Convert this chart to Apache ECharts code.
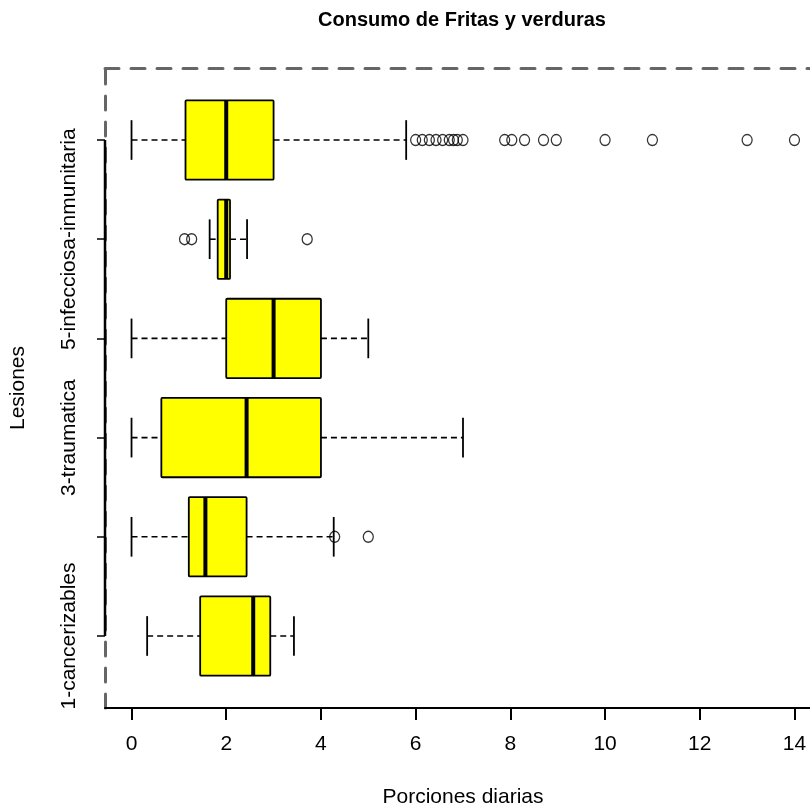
<!DOCTYPE html>
<html>
<head>
<meta charset="utf-8">
<title>Consumo de Fritas y verduras</title>
<script src="https://cdn.jsdelivr.net/npm/echarts@6/dist/echarts.min.js"></script>
<style>
  html, body { margin: 0; padding: 0; background: #ffffff; }
  #chart { width: 810px; height: 807px; }
</style>
</head>
<body>
<div id="chart"></div>
<script>
// Groups of lesions, bottom to top (only every other one is labelled on the axis)
const categories = [
  '1-cancerizables',
  '2-degenerativa',
  '3-traumatica',
  '4-vascular',
  '5-infecciosa-inmunitaria',
  '6-otras'
];

// Five-number summaries per group (daily portions)
const lowWhisker  = [0.33, 0.00, 0.00, 0.00, 1.65, 0.00];
const lowerQuart  = [1.45, 1.21, 0.63, 2.00, 1.82, 1.14];
const medianValue = [2.57, 1.56, 2.43, 3.00, 2.00, 2.00];
const upperQuart  = [2.93, 2.43, 4.00, 4.00, 2.08, 3.00];
const highWhisker = [3.43, 4.27, 7.00, 5.00, 2.44, 5.80];

// Points beyond the whiskers
const outliers = [
  [],
  [4.29, 5.0],
  [],
  [],
  [1.12, 1.27, 3.71],
  [6.0, 6.14, 6.29, 6.43, 6.57, 6.71, 6.8, 6.88, 7.0, 7.88, 8.03, 8.3, 8.7, 8.97, 10, 11, 13, 14]
];

const xTickValues = [0, 2, 4, 6, 8, 10, 12, 14];
const groupTicks = [1, 2, 3, 4, 5, 6];
const labelledGroups = [1, 3, 5];

// Axis extents: data range padded on each side
const X_MIN = -0.56, X_MAX = 14.56;
const Y_MIN = 0.274, Y_MAX = 6.726;
const BOX_WIDTH = 0.8;
const CAP_WIDTH = 0.4;

const FONT = '"Liberation Sans", Arial, Helvetica, sans-serif';

const boxData = categories.map((c, i) => [
  i + 1, lowWhisker[i], lowerQuart[i], medianValue[i], upperQuart[i], highWhisker[i]
]);

const outlierData = [];
outliers.forEach((vals, i) => vals.forEach(v => outlierData.push([v, i + 1])));

function renderBox(params, api) {
  const g = api.value(0);
  const pLo = api.coord([api.value(1), g]);
  const pQ1 = api.coord([api.value(2), g]);
  const pMed = api.coord([api.value(3), g]);
  const pQ3 = api.coord([api.value(4), g]);
  const pHi = api.coord([api.value(5), g]);
  const half = api.size([0, BOX_WIDTH])[1] / 2;
  const capHalf = api.size([0, CAP_WIDTH])[1] / 2;
  const cy = pMed[1];
  const whisk = { stroke: '#000', lineWidth: 1.6, lineDash: [6, 4], fill: null };
  const solid = { stroke: '#000', lineWidth: 1.8, fill: null };
  return {
    type: 'group',
    children: [
      { type: 'line', shape: { x1: pLo[0], y1: cy, x2: pQ1[0], y2: cy }, style: whisk },
      { type: 'line', shape: { x1: pQ3[0], y1: cy, x2: pHi[0], y2: cy }, style: whisk },
      { type: 'line', shape: { x1: pLo[0], y1: cy - capHalf, x2: pLo[0], y2: cy + capHalf }, style: solid },
      { type: 'line', shape: { x1: pHi[0], y1: cy - capHalf, x2: pHi[0], y2: cy + capHalf }, style: solid },
      {
        type: 'rect',
        shape: { x: pQ1[0], y: cy - half, width: pQ3[0] - pQ1[0], height: half * 2, r: 1 },
        style: { fill: '#FFFF00', stroke: '#000', lineWidth: 1.8 }
      },
      { type: 'line', shape: { x1: pMed[0], y1: cy - half, x2: pMed[0], y2: cy + half }, style: { stroke: '#000', lineWidth: 4 } }
    ]
  };
}

const chart = echarts.init(document.getElementById('chart'), null, { renderer: 'canvas' });

chart.setOption({
  animation: false,
  backgroundColor: '#ffffff',
  textStyle: { fontFamily: FONT },
  title: {
    text: 'Consumo de Fritas y verduras',
    left: 457,
    top: 5,
    textAlign: 'center',
    textStyle: { fontFamily: FONT, fontWeight: 'bold', fontSize: 20, color: '#000' }
  },
  grid: {
    left: 105, top: 68, width: 716, height: 640,
    containLabel: false,
    outerBoundsMode: 'none'
  },
  xAxis: [
    {
      type: 'value',
      position: 'bottom',
      min: X_MIN,
      max: X_MAX,
      name: 'Porciones diarias',
      nameLocation: 'middle',
      nameGap: 79,
      nameTextStyle: { fontFamily: FONT, fontSize: 21, color: '#000' },
      axisLine: { show: true, onZero: false, lineStyle: { color: '#000', width: 2 } },
      axisTick: { show: true, length: 12, lineStyle: { color: '#000', width: 2 }, customValues: xTickValues },
      axisLabel: { show: true, margin: 26, fontFamily: FONT, fontSize: 21, color: '#000', customValues: xTickValues },
      splitLine: { show: false }
    },
    {
      type: 'value',
      position: 'top',
      min: X_MIN,
      max: X_MAX,
      axisLine: { show: true, onZero: false, lineStyle: { color: '#666', width: 3, type: [14, 12] } },
      axisTick: { show: false },
      axisLabel: { show: false },
      splitLine: { show: false }
    }
  ],
  yAxis: {
    type: 'value',
    position: 'left',
    min: Y_MIN,
    max: Y_MAX,
    name: 'Lesiones',
    nameLocation: 'middle',
    nameGap: 76,
    nameTextStyle: { fontFamily: FONT, fontSize: 21, color: '#000' },
    axisLine: { show: true, onZero: false, lineStyle: { color: '#666', width: 3, type: [14, 12] } },
    axisTick: { show: true, length: 8, lineStyle: { color: '#000', width: 1.5 }, customValues: groupTicks },
    axisLabel: {
      show: true,
      rotate: 90,
      margin: 25,
      fontFamily: FONT,
      fontSize: 21,
      color: '#000',
      customValues: labelledGroups,
      formatter: v => categories[Math.round(v) - 1]
    },
    splitLine: { show: false }
  },
  series: [
    {
      // solid axis segment spanning the first to the last group
      type: 'line',
      xAxisIndex: 0,
      clip: false,
      silent: true,
      symbol: 'none',
      lineStyle: { color: '#000', width: 2.5 },
      data: [[X_MIN, groupTicks[0]], [X_MIN, groupTicks[groupTicks.length - 1]]],
      z: 5
    },
    {
      type: 'custom',
      xAxisIndex: 0,
      renderItem: renderBox,
      encode: { x: [1, 2, 3, 4, 5], y: 0 },
      data: boxData,
      z: 3
    },
    {
      type: 'scatter',
      xAxisIndex: 0,
      symbol: 'circle',
      symbolSize: [10, 11],
      itemStyle: { color: 'rgba(0,0,0,0)', borderColor: '#000', borderWidth: 1.3 },
      data: outlierData,
      z: 4
    }
  ]
});
</script>
</body>
</html>
